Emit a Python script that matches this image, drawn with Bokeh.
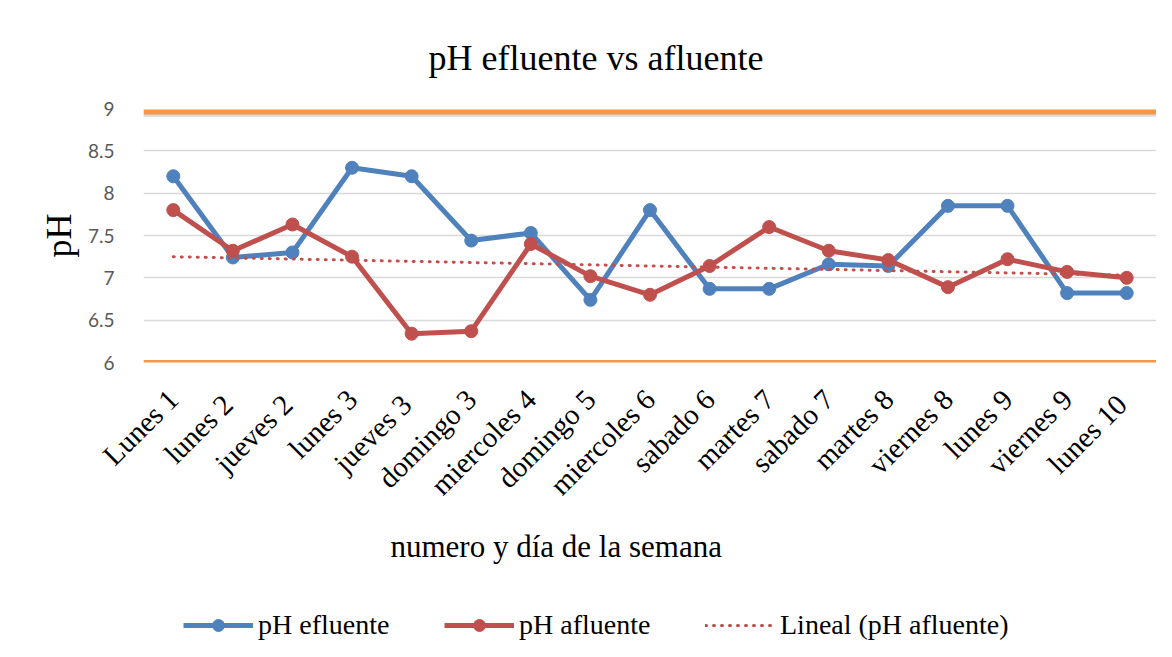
import numpy as np
from math import pi
from bokeh.plotting import figure
from bokeh.layouts import column
from bokeh.models import (Range1d, FixedTicker, CustomJSTickFormatter, Span,
                          Legend, LegendItem, Title)
from bokeh.embed import file_html
from bokeh.resources import INLINE

# ---------------- data ----------------
days = ["Lunes 1", "lunes  2", "jueves  2", "lunes 3", "jueves  3", "domingo 3",
        "miercoles 4", "domingo 5", "miercoles 6", "sabado 6", "martes 7",
        "sabado 7", "martes 8", "viernes 8", "lunes 9", "viernes 9", "lunes  10"]
ph_efluente = [8.20, 7.24, 7.30, 8.30, 8.20, 7.44, 7.53, 6.74, 7.80, 6.87, 6.87,
               7.16, 7.14, 7.85, 7.85, 6.82, 6.82]
ph_afluente = [7.80, 7.32, 7.63, 7.25, 6.34, 6.37, 7.40, 7.02, 6.80, 7.14, 7.60,
               7.32, 7.21, 6.89, 7.22, 7.07, 7.00]
limit_low = 6.0
limit_high = 8.96
y_ticks = [6, 6.5, 7, 7.5, 8, 8.5, 9]
series_names = ["pH efluente", "pH afluente", "Lineal (pH afluente)"]

# linear trend of afluente (as Excel "Lineal")
xi = np.arange(1, len(ph_afluente) + 1)
slope, intercept = np.polyfit(xi, ph_afluente, 1)
trend = list(slope * xi + intercept)

SERIF = "Liberation Serif"
BLUE = "#4F81BD"
RED = "#C0504D"
ORANGE = "#F79646"

p = figure(width=1156, height=591, x_range=days, y_range=Range1d(6, 9),
           output_backend="svg", toolbar_location=None,
           min_border_left=143, min_border_right=0, min_border_top=108,
           min_border_bottom=229)

p.title.text = "pH efluente vs afluente"
p.title.text_font = SERIF
p.title.text_font_size = "36px"
p.title.text_font_style = "normal"
p.title.text_color = "#000000"
p.title.align = "left"
p.title.offset = 285
p.title.standoff = 61

p.outline_line_color = None
p.background_fill_color = "white"
p.border_fill_color = "white"

# y axis
p.yaxis.ticker = FixedTicker(ticks=y_ticks)
p.yaxis.formatter = CustomJSTickFormatter(code="return tick.toString()")
p.yaxis.axis_line_color = None
p.yaxis.major_tick_line_color = None
p.yaxis.minor_tick_line_color = None
p.yaxis.major_label_text_font = "Lato"
p.yaxis.major_label_text_font_size = "19px"
p.yaxis.major_label_text_color = "#595959"
p.yaxis.major_label_standoff = 23
p.yaxis.axis_label = "pH"
p.yaxis.axis_label_text_font = SERIF
p.yaxis.axis_label_text_font_size = "36px"
p.yaxis.axis_label_text_font_style = "normal"
p.yaxis.axis_label_text_color = "#000000"
p.yaxis.axis_label_standoff = 6

# x axis
p.xaxis.axis_line_color = None
p.xaxis.major_tick_line_color = None
p.xaxis.minor_tick_line_color = None
p.xaxis.major_label_orientation = pi / 4
p.xaxis.major_label_text_font = SERIF
p.xaxis.major_label_text_font_size = "29px"
p.xaxis.major_label_text_color = "#000000"
p.xaxis.major_label_standoff = 26

# x axis title (offset to the left like the reference)
xtitle = Title(text="numero y día de la semana", text_font=SERIF,
               text_font_size="31px", text_font_style="normal",
               text_color="#000000", align="left", offset=247, standoff=22)
p.add_layout(xtitle, "below")

p.xgrid.grid_line_color = None
p.ygrid.grid_line_color = "#d9d9d9"
p.ygrid.grid_line_width = 1.5

# limit lines (with soft shadow)
for lv in (limit_low, limit_high):
    p.add_layout(Span(location=lv - 0.035, dimension="width", line_color="#bfbfbf",
                      line_alpha=0.6, line_width=4))
    p.add_layout(Span(location=lv, dimension="width", line_color=ORANGE,
                      line_width=5))

# series
p.line(days, ph_efluente, line_color=BLUE, line_width=5)
p.scatter(days, ph_efluente, size=13, fill_color=BLUE, line_color=BLUE)
p.line(days, ph_afluente, line_color=RED, line_width=5)
p.scatter(days, ph_afluente, size=13, fill_color=RED, line_color=RED)
p.line(days, trend, line_color=RED, line_width=3, line_dash="1 7",
       line_cap="round")

# ---- legend strip (separate figure so it is not clipped) ----
lg = figure(width=1156, height=50, x_range=Range1d(0, 1), y_range=Range1d(0, 1),
            output_backend="svg", toolbar_location=None,
            x_axis_type=None, y_axis_type=None, min_border=0)
lg.outline_line_color = None
lg.grid.grid_line_color = None
hx, hy = [5, 6], [5, 5]   # off-screen proxies, only used by the legend
a1 = lg.line(hx, hy, line_color=BLUE, line_width=5)
b1 = lg.scatter(hx, hy, size=13, fill_color=BLUE, line_color=BLUE)
a2 = lg.line(hx, hy, line_color=RED, line_width=5)
b2 = lg.scatter(hx, hy, size=13, fill_color=RED, line_color=RED)
a3 = lg.line(hx, hy, line_color=RED, line_width=3, line_dash="1 7",
             line_cap="round")
legend = Legend(items=[LegendItem(label=series_names[0], renderers=[a1, b1]),
                       LegendItem(label=series_names[1], renderers=[a2, b2]),
                       LegendItem(label=series_names[2], renderers=[a3])],
                orientation="horizontal", location=(40, 0),
                glyph_width=70, glyph_height=30, label_height=30,
                label_standoff=5, label_width=140, spacing=46, padding=0,
                margin=0, label_text_font=SERIF, label_text_font_size="28px",
                label_text_color="#000000", border_line_color=None,
                background_fill_alpha=0)
lg.add_layout(legend, "center")

open("out.html", "w").write(file_html(column(p, lg, spacing=0), INLINE))
